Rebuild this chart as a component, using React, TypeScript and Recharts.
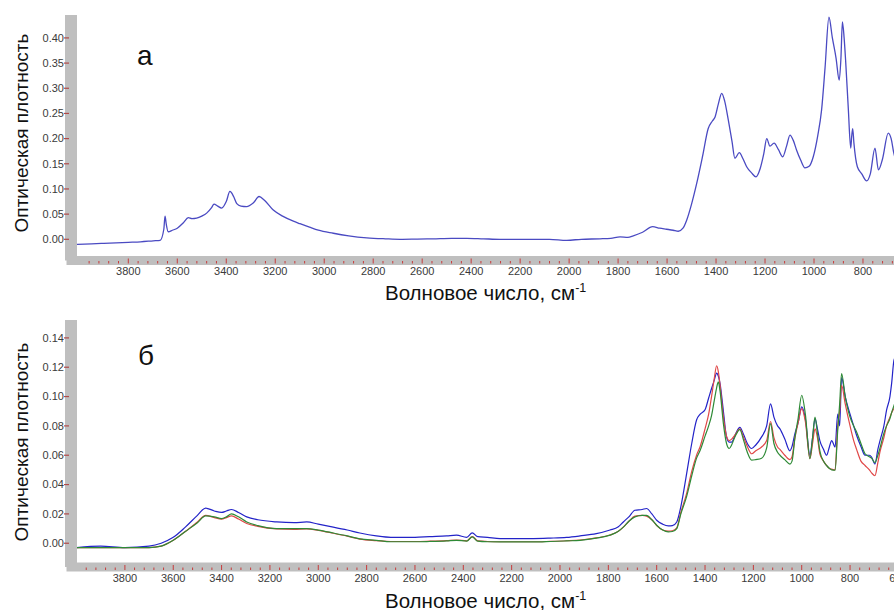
import React from 'react';
import { LineChart, Line, XAxis, YAxis } from 'recharts';

// ---------- Panel "а" (top) ----------
const topWavenumbers = [
  4010, 3950, 3900, 3850, 3800, 3750, 3698, 3670, 3655, 3650, 3645, 3637, 3620, 3600, 3575, 3555, 3540, 3521,
  3500, 3480, 3460, 3450, 3435, 3419, 3400, 3385, 3370, 3357, 3340, 3317, 3290, 3266, 3245, 3208, 3170, 3126,
  3099, 3060, 3024, 2963, 2900, 2826, 2750, 2690, 2620, 2556, 2480, 2418, 2350, 2282, 2200, 2146, 2080, 2010,
  1950, 1874, 1830, 1792, 1760, 1738, 1700, 1659, 1630, 1602, 1575, 1554, 1535, 1520, 1500, 1479, 1455, 1432,
  1415, 1404, 1390, 1377, 1365, 1350, 1335, 1323, 1305, 1290, 1275, 1255, 1237, 1220, 1205, 1193, 1180, 1163,
  1145, 1128, 1112, 1098, 1085, 1071, 1055, 1037, 1020, 1003, 985, 969, 955, 939, 925, 910, 897, 890, 884, 877,
  871, 860, 850, 846, 842, 837, 823, 805, 785, 770, 751, 737, 720, 697, 685, 674, 660, 650,
];
const topAbsorbance = [
  -0.010, -0.009, -0.008, -0.007, -0.006, -0.005, -0.003, -0.002, 0.020, 0.046, 0.030, 0.015, 0.018, 0.022, 0.033, 0.043, 0.041, 0.042,
  0.046, 0.052, 0.063, 0.070, 0.066, 0.062, 0.075, 0.095, 0.085, 0.071, 0.066, 0.065, 0.072, 0.085, 0.078, 0.058, 0.046, 0.036,
  0.031, 0.024, 0.018, 0.012, 0.007, 0.003, 0.001, 0.000, 0.0005, 0.001, 0.002, 0.002, 0.001, 0.000, 0.000, 0.000, 0.000, -0.002,
  0.000, 0.001, 0.002, 0.005, 0.004, 0.007, 0.014, 0.025, 0.022, 0.020, 0.018, 0.016, 0.022, 0.038, 0.070, 0.111, 0.165, 0.220,
  0.235, 0.243, 0.270, 0.290, 0.275, 0.237, 0.195, 0.161, 0.172, 0.160, 0.144, 0.132, 0.124, 0.140, 0.170, 0.200, 0.185, 0.191,
  0.178, 0.164, 0.185, 0.207, 0.197, 0.177, 0.158, 0.142, 0.145, 0.164, 0.205, 0.257, 0.340, 0.441, 0.400, 0.360, 0.316, 0.360, 0.432, 0.400,
  0.356, 0.260, 0.181, 0.205, 0.220, 0.191, 0.144, 0.130, 0.116, 0.130, 0.181, 0.138, 0.160, 0.211, 0.200, 0.171, 0.150, 0.140,
];

// ---------- Panel "б" (bottom) ----------
const bottomWavenumbers = [
  4000, 3900, 3800, 3700, 3650, 3600, 3550, 3500, 3466, 3430, 3400, 3380, 3359, 3330, 3296, 3250, 3172, 3100, 3048, 3000,
  2938, 2880, 2828, 2760, 2700, 2662, 2600, 2540, 2469, 2428, 2386, 2363, 2340, 2300, 2248, 2180, 2110, 2040, 1973, 1917,
  1850, 1793, 1760, 1738, 1715, 1690, 1660, 1642, 1620, 1600, 1575, 1552, 1535, 1517, 1500, 1476, 1455, 1435, 1420, 1400,
  1385, 1373, 1362, 1352, 1345, 1338, 1324, 1311, 1300, 1290, 1275, 1256, 1240, 1225, 1207, 1190, 1166, 1145, 1129, 1115,
  1100, 1090, 1070, 1049, 1040, 1028, 1015, 1000, 985, 966, 955, 945, 935, 925, 910, 897, 885, 876, 862, 851,
  843, 835, 820, 800, 785, 773, 755, 738, 720, 711, 697, 685, 676, 660, 649, 635, 628, 618, 600,
];
const bottomBlue = [
  -0.003, -0.002, -0.003, -0.002, 0.000, 0.004, 0.011, 0.019, 0.024, 0.022, 0.021, 0.022, 0.023, 0.021, 0.018, 0.016, 0.0145, 0.014, 0.0145, 0.013,
  0.011, 0.009, 0.007, 0.005, 0.004, 0.004, 0.004, 0.0045, 0.005, 0.0055, 0.004, 0.007, 0.0045, 0.004, 0.0032, 0.0032, 0.0032, 0.0035, 0.004, 0.005,
  0.0065, 0.009, 0.011, 0.0145, 0.018, 0.0225, 0.023, 0.0237, 0.020, 0.0157, 0.013, 0.0118, 0.012, 0.0145, 0.025, 0.0475, 0.068, 0.084, 0.088, 0.091,
  0.099, 0.1055, 0.111, 0.116, 0.114, 0.109, 0.090, 0.0725, 0.069, 0.069, 0.074, 0.079, 0.074, 0.068, 0.0646, 0.067, 0.0725, 0.080, 0.095, 0.086,
  0.080, 0.078, 0.071, 0.063, 0.066, 0.0748, 0.082, 0.093, 0.085, 0.060, 0.072, 0.085, 0.078, 0.070, 0.064, 0.060, 0.066, 0.070, 0.0656, 0.088,
  0.080, 0.113, 0.100, 0.088, 0.080, 0.0736, 0.066, 0.060, 0.060, 0.0588, 0.054, 0.064, 0.070, 0.080, 0.0907, 0.100, 0.109, 0.125, 0.130,
];
const bottomRed = [
  -0.003, -0.003, -0.003, -0.003, -0.002, 0.002, 0.008, 0.0145, 0.019, 0.0175, 0.0165, 0.0175, 0.0186, 0.0165, 0.0135, 0.0115, 0.0098, 0.0095, 0.0098, 0.0088,
  0.0068, 0.0048, 0.0028, 0.0018, 0.0012, 0.0012, 0.0012, 0.0014, 0.0018, 0.0022, 0.0016, 0.0045, 0.0016, 0.0012, 0.001, 0.001, 0.001, 0.0013, 0.0017, 0.0022,
  0.0036, 0.0056, 0.008, 0.011, 0.015, 0.0185, 0.019, 0.0185, 0.016, 0.012, 0.009, 0.0082, 0.0085, 0.0105, 0.021, 0.034, 0.049, 0.060, 0.066, 0.078,
  0.088, 0.100, 0.112, 0.121, 0.117, 0.108, 0.086, 0.073, 0.070, 0.071, 0.074, 0.078, 0.072, 0.066, 0.061, 0.063, 0.0656, 0.070, 0.083, 0.072,
  0.0656, 0.064, 0.060, 0.057, 0.059, 0.072, 0.082, 0.0918, 0.083, 0.0577, 0.068, 0.078, 0.072, 0.061, 0.056, 0.053, 0.051, 0.0505, 0.050, 0.080,
  0.090, 0.1077, 0.095, 0.080, 0.070, 0.064, 0.056, 0.053, 0.050, 0.048, 0.046, 0.055, 0.0625, 0.072, 0.080, 0.086, 0.089, 0.092, 0.098,
];
const bottomGreen = [
  -0.003, -0.003, -0.003, -0.003, -0.002, 0.002, 0.008, 0.014, 0.0186, 0.018, 0.0168, 0.018, 0.020, 0.018, 0.0145, 0.012, 0.010, 0.010, 0.010, 0.009,
  0.007, 0.005, 0.003, 0.002, 0.001, 0.001, 0.001, 0.0012, 0.0016, 0.002, 0.0015, 0.0043, 0.0014, 0.001, 0.0009, 0.0009, 0.0009, 0.0012, 0.0016, 0.002,
  0.0035, 0.0055, 0.008, 0.011, 0.015, 0.018, 0.019, 0.019, 0.016, 0.0123, 0.009, 0.0077, 0.008, 0.010, 0.020, 0.032, 0.046, 0.058, 0.0634, 0.073,
  0.080, 0.087, 0.097, 0.106, 0.110, 0.104, 0.0816, 0.068, 0.0646, 0.067, 0.073, 0.0775, 0.070, 0.062, 0.0566, 0.057, 0.058, 0.065, 0.0816, 0.068,
  0.062, 0.060, 0.057, 0.054, 0.056, 0.072, 0.085, 0.1009, 0.088, 0.0577, 0.072, 0.086, 0.075, 0.063, 0.056, 0.053, 0.051, 0.050, 0.0498, 0.077,
  0.095, 0.1157, 0.100, 0.086, 0.080, 0.0759, 0.068, 0.061, 0.059, 0.058, 0.055, 0.060, 0.065, 0.075, 0.080, 0.085, 0.089, 0.094, 0.100,
];

// ---------- Axis ticks ----------
const topYTicks = [0, 0.05, 0.1, 0.15, 0.2, 0.25, 0.3, 0.35, 0.4];
const bottomYTicks = [0, 0.02, 0.04, 0.06, 0.08, 0.1, 0.12, 0.14];
const topXLabels = [3800, 3600, 3400, 3200, 3000, 2800, 2600, 2400, 2200, 2000, 1800, 1600, 1400, 1200, 1000, 800];
const bottomXLabels = [3800, 3600, 3400, 3200, 3000, 2800, 2600, 2400, 2200, 2000, 1800, 1600, 1400, 1200, 1000, 800, 600];

const FONT = '"Liberation Sans", Arial, Helvetica, sans-serif';
const BAND = '#bfbfbf';
const TICK_RED = '#c83c3c';

const topData = topWavenumbers.map((w, i) => ({ w, a: topAbsorbance[i] }));
const bottomData = bottomWavenumbers.map((w, i) => ({
  w,
  blue: bottomBlue[i],
  red: bottomRed[i],
  green: bottomGreen[i],
}));

function tickSeries(from: number, to: number, step: number) {
  const t: number[] = [];
  for (let w = from; w >= to; w -= step) t.push(w);
  return t;
}
const topXTicks = tickSeries(3960, 640, 40);
const bottomXTicks = tickSeries(3960, 560, 40);

const makeXTick = (labels: number[]) => (props: any) => {
  const { x, y, payload } = props;
  const v = payload.value;
  const major = labels.includes(v);
  return (
    <g>
      <line x1={x} x2={x} y1={major ? y - 2 : y + 0.5} y2={y + 3} stroke={TICK_RED} strokeWidth={1} />
      {major && (
        <text x={x} y={y + 14.5} textAnchor="middle" fontSize={11} fill="#3a3a3a" fontFamily={FONT}>
          {v}
        </text>
      )}
    </g>
  );
};

const yTick = (props: any) => {
  const { x, y, payload } = props;
  return (
    <g>
      <line x1={x - 7} x2={x - 2} y1={y} y2={y} stroke="#b04a4a" strokeWidth={1.2} />
      <text x={x - 7} y={y} dy="0.35em" textAnchor="end" fontSize={11} fill="#3a3a3a" fontFamily={FONT}>
        {Number(payload.value).toFixed(2)}
      </text>
    </g>
  );
};

export default function App() {
  return (
    <div
      style={{
        position: 'fixed',
        left: 0,
        top: 0,
        width: 894,
        height: 610,
        overflow: 'hidden',
        background: '#ffffff',
        fontFamily: FONT,
      }}
    >
      {/* Top panel */}
      <div style={{ position: 'absolute', left: 0, top: 0 }}>
        <LineChart width={930} height={300} data={topData} margin={{ top: 15, right: 20, bottom: 9.5, left: 0 }}>
          <XAxis
            type="number"
            dataKey="w"
            domain={[608, 4034]}
            reversed
            allowDataOverflow
            ticks={topXTicks}
            interval={0}
            tick={makeXTick(topXLabels)}
            tickLine={false}
            tickSize={0}
            tickMargin={0}
            height={30}
            axisLine={{ stroke: BAND, strokeWidth: 9, strokeLinecap: 'square' }}
          />
          <YAxis
            type="number"
            domain={[-0.0421, 0.4455]}
            allowDataOverflow
            ticks={topYTicks}
            interval={0}
            tick={yTick}
            tickLine={false}
            tickSize={0}
            tickMargin={0}
            width={71}
            axisLine={{ stroke: BAND, strokeWidth: 12 }}
          />
          <Line
            type="monotone"
            dataKey="a"
            stroke="#4a4ac2"
            strokeWidth={1.3}
            dot={false}
            isAnimationActive={false}
          />
        </LineChart>
      </div>

      {/* Bottom panel */}
      <div style={{ position: 'absolute', left: 0, top: 305 }}>
        <LineChart width={930} height={300} data={bottomData} margin={{ top: 15, right: 20, bottom: 8, left: 0 }}>
          <XAxis
            type="number"
            dataKey="w"
            domain={[552, 4023]}
            reversed
            allowDataOverflow
            ticks={bottomXTicks}
            interval={0}
            tick={makeXTick(bottomXLabels)}
            tickLine={false}
            tickSize={0}
            tickMargin={0}
            height={30}
            axisLine={{ stroke: BAND, strokeWidth: 9, strokeLinecap: 'square' }}
          />
          <YAxis
            type="number"
            domain={[-0.0162, 0.1522]}
            allowDataOverflow
            ticks={bottomYTicks}
            interval={0}
            tick={yTick}
            tickLine={false}
            tickSize={0}
            tickMargin={0}
            width={71}
            axisLine={{ stroke: BAND, strokeWidth: 12 }}
          />
          <Line type="monotone" dataKey="blue" stroke="#2323c8" strokeWidth={1.2} dot={false} isAnimationActive={false} />
          <Line type="monotone" dataKey="red" stroke="#e04848" strokeWidth={1.2} dot={false} isAnimationActive={false} />
          <Line type="monotone" dataKey="green" stroke="#2e8a36" strokeWidth={1.2} dot={false} isAnimationActive={false} />
        </LineChart>
      </div>

      {/* Titles */}
      <svg
        width={894}
        height={610}
        style={{ position: 'absolute', left: 0, top: 0, pointerEvents: 'none' }}
        fontFamily={FONT}
      >
        <text transform="translate(27.5,133) rotate(-90)" textAnchor="middle" fontSize={19} fill="#111">
          Оптическая плотность
        </text>
        <text transform="translate(27.5,442) rotate(-90)" textAnchor="middle" fontSize={19} fill="#111">
          Оптическая плотность
        </text>
        <text x={137} y={65} fontSize={28} fill="#111">
          а
        </text>
        <text x={138} y={365} fontSize={28} fill="#111">
          б
        </text>
        <text x={385} y={299.5} fontSize={20.5} fill="#111">
          Волновое число, см
          <tspan fontSize={12.5} dy={-8}>
            -1
          </tspan>
        </text>
        <text x={385} y={607.5} fontSize={20.5} fill="#111">
          Волновое число, см
          <tspan fontSize={12.5} dy={-8}>
            -1
          </tspan>
        </text>
      </svg>
    </div>
  );
}
